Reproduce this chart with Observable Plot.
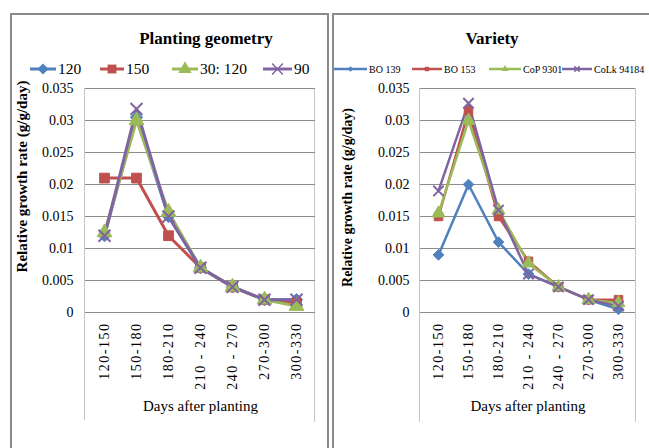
<!DOCTYPE html>
<html><head><meta charset="utf-8">
<script src="https://cdn.jsdelivr.net/npm/d3@7"></script>
<script src="https://cdn.jsdelivr.net/npm/@observablehq/plot@0.6"></script>
<style>
body{margin:0;background:#fff;font-family:"Liberation Serif","Times New Roman",serif;}
#page{position:relative;width:649px;height:448px;overflow:hidden;background:#fff;}
.panel{position:absolute;border:2px solid #8a8a8a;box-sizing:border-box;}
.title{position:absolute;font-weight:bold;font-size:17px;transform:translateX(-50%);white-space:nowrap;line-height:20px;}
.lgitem{position:absolute;display:flex;align-items:center;white-space:nowrap;color:#000;}
.lgitem svg{display:block;}
.vline{position:absolute;width:1px;background:#c4c4c4;}
.chart{position:absolute;}
g[aria-label="x-axis tick label"]{letter-spacing:1.5px;}
</style></head><body><div id="page"></div>
<script>
// ---- data ----
const days = ["120-150","150-180","180-210","210 - 240","240 - 270","270-300","300-330"];
const yTicks = [0,0.005,0.01,0.015,0.02,0.025,0.03,0.035];

const geometryNames = ["120","150","30: 120","90"];
const geo120   = [0.012, 0.0305, 0.015, 0.007, 0.004, 0.002, 0.002];
const geo150   = [0.021, 0.021, 0.012, 0.007, 0.004, 0.002, 0.0015];
const geo30120 = [0.0125, 0.030, 0.0157, 0.007, 0.004, 0.002, 0.001];
const geo90    = [0.012, 0.0318, 0.015, 0.007, 0.004, 0.002, 0.002];

const varietyNames = ["BO 139","BO 153","CoP 9301","CoLk 94184"];
const bo139    = [0.009, 0.020, 0.011, 0.006, 0.004, 0.002, 0.0005];
const bo153    = [0.015, 0.0315, 0.015, 0.008, 0.004, 0.002, 0.002];
const cop9301  = [0.0155, 0.030, 0.016, 0.0077, 0.004, 0.002, 0.0015];
const colk94184= [0.019, 0.0327, 0.016, 0.006, 0.004, 0.002, 0.001];

const colors  = ["#4F81BD","#C0504D","#9BBB59","#8064A2"];
const symbols = ["diamond2","square","triangle","times"];

const fmt = d => String(+d.toFixed(3));
const page = document.getElementById("page");

function el(tag, cls, style, text){
  const e = document.createElement(tag);
  if (cls) e.className = cls;
  Object.assign(e.style, style||{});
  if (text!=null) e.textContent = text;
  page.appendChild(e);
  return e;
}

function legend(names, xs, y, opt){
  names.forEach((n,i)=>{
    const it = el("div","lgitem",{left:xs[i]+"px",top:y+"px",fontSize:opt.fontSize+"px"});
    const W = opt.sw[i], H = 16;
    const svg = d3.create("svg").attr("width",W).attr("height",H);
    svg.append("line").attr("x1",0).attr("x2",W).attr("y1",H/2).attr("y2",H/2)
      .attr("stroke",colors[i]).attr("stroke-width",opt.lw);
    const symMap = {diamond2:d3.symbolDiamond2, square:d3.symbolSquare, triangle:d3.symbolTriangle, times:d3.symbolTimes};
    const sym = d3.symbol(symMap[symbols[i]], Math.PI*opt.r*opt.r)();
    const p = svg.append("path").attr("d",sym).attr("transform",`translate(${W/2},${H/2})`);
    if (symbols[i]==="times") p.attr("fill","none").attr("stroke",colors[i]).attr("stroke-width",1.5);
    else p.attr("fill",colors[i]);
    it.appendChild(svg.node());
    const t = document.createElement("span");
    t.textContent = n;
    t.style.marginLeft = "2px";
    it.appendChild(t);
  });
}

function chart(o){
  const series = o.values.map((vals,i)=>vals.map((v,j)=>({day:days[j], value:v, series:o.names[i]})));
  const rows = series.flat();
  const marks = [
    Plot.gridY(yTicks,{stroke:"#8c8c8c",strokeOpacity:1}),
    Plot.axisY(yTicks,{tickSize:0,tickPadding:o.tickPadY,tickFormat:fmt,label:null,fontSize:14}),
    Plot.axisX({tickSize:0,tickPadding:10,tickRotate:-90,label:null,fontSize:14}),
    Plot.ruleY([0],{stroke:"#8c8c8c"}),
    Plot.line(rows,{x:"day",y:"value",z:"series",stroke:"series",strokeWidth:o.sw})
  ];
  series.forEach((s,i)=>{
    if (symbols[i]==="times")
      marks.push(Plot.dot(s,{x:"day",y:"value",symbol:"times",r:o.r,stroke:colors[i],fill:"none",strokeWidth:2}));
    else
      marks.push(Plot.dot(s,{x:"day",y:"value",symbol:symbols[i],r:o.r,fill:colors[i],stroke:colors[i],strokeWidth:1}));
  });
  marks.push(Plot.text(["Relative growth rate (g/g/day)"],{text:d=>d,frameAnchor:"left",textAnchor:"middle",rotate:-90,dx:o.ylDx,dy:o.ylDy,fontWeight:"bold",fontSize:o.ylSize}));
  marks.push(Plot.text(["Days after planting"],{text:d=>d,frameAnchor:"bottom",textAnchor:"middle",dy:98,fontSize:15}));
  const p = Plot.plot({
    width:o.width,height:370,marginLeft:o.ml,marginRight:o.mr,marginTop:28,marginBottom:118,
    style:{fontFamily:"Liberation Serif, serif",fontSize:"14px",color:"#000",background:"transparent",overflow:"visible"},
    x:{type:"point",domain:days,padding:0.5},
    y:{domain:[0,0.035]},
    color:{domain:o.names,range:colors},
    marks
  });
  const c = el("div","chart",{left:o.left+"px",top:"60px"});
  c.appendChild(p);
}

// panels
el("div","panel",{left:"10px",top:"13px",width:"319px",height:"460px"});
el("div","panel",{left:"332px",top:"13px",width:"340px",height:"460px"});

// faint plot-area verticals
el("div","vline",{left:"84px",top:"88px",height:"332px"});
el("div","vline",{left:"314px",top:"88px",height:"334px"});
el("div","vline",{left:"419px",top:"88px",height:"334px"});
el("div","vline",{left:"635px",top:"88px",height:"334px"});

// titles
el("div","title",{left:"206px",top:"29px"},"Planting geometry");
el("div","title",{left:"492px",top:"29px"},"Variety");

legend(geometryNames, [30,100,172,263], 60, {fontSize:15.5, sw:[26,24,26,29], lw:3, r:5});
legend(varietyNames, [334,412,489,562], 61, {fontSize:10, sw:[33,30,32,30], lw:2.5, r:2.5});

chart({values:[geo120,geo150,geo30120,geo90],names:geometryNames,left:0,width:330,ml:85,mr:15,
  r:5.5,sw:3,tickPadY:12,ylDx:-63,ylDy:-24,ylSize:15});
chart({values:[bo139,bo153,cop9301,colk94184],names:varietyNames,left:330,width:319,ml:90,mr:14,
  r:4.8,sw:2.5,tickPadY:11,ylDx:-73,ylDy:-3,ylSize:14});
</script>
</body></html>
